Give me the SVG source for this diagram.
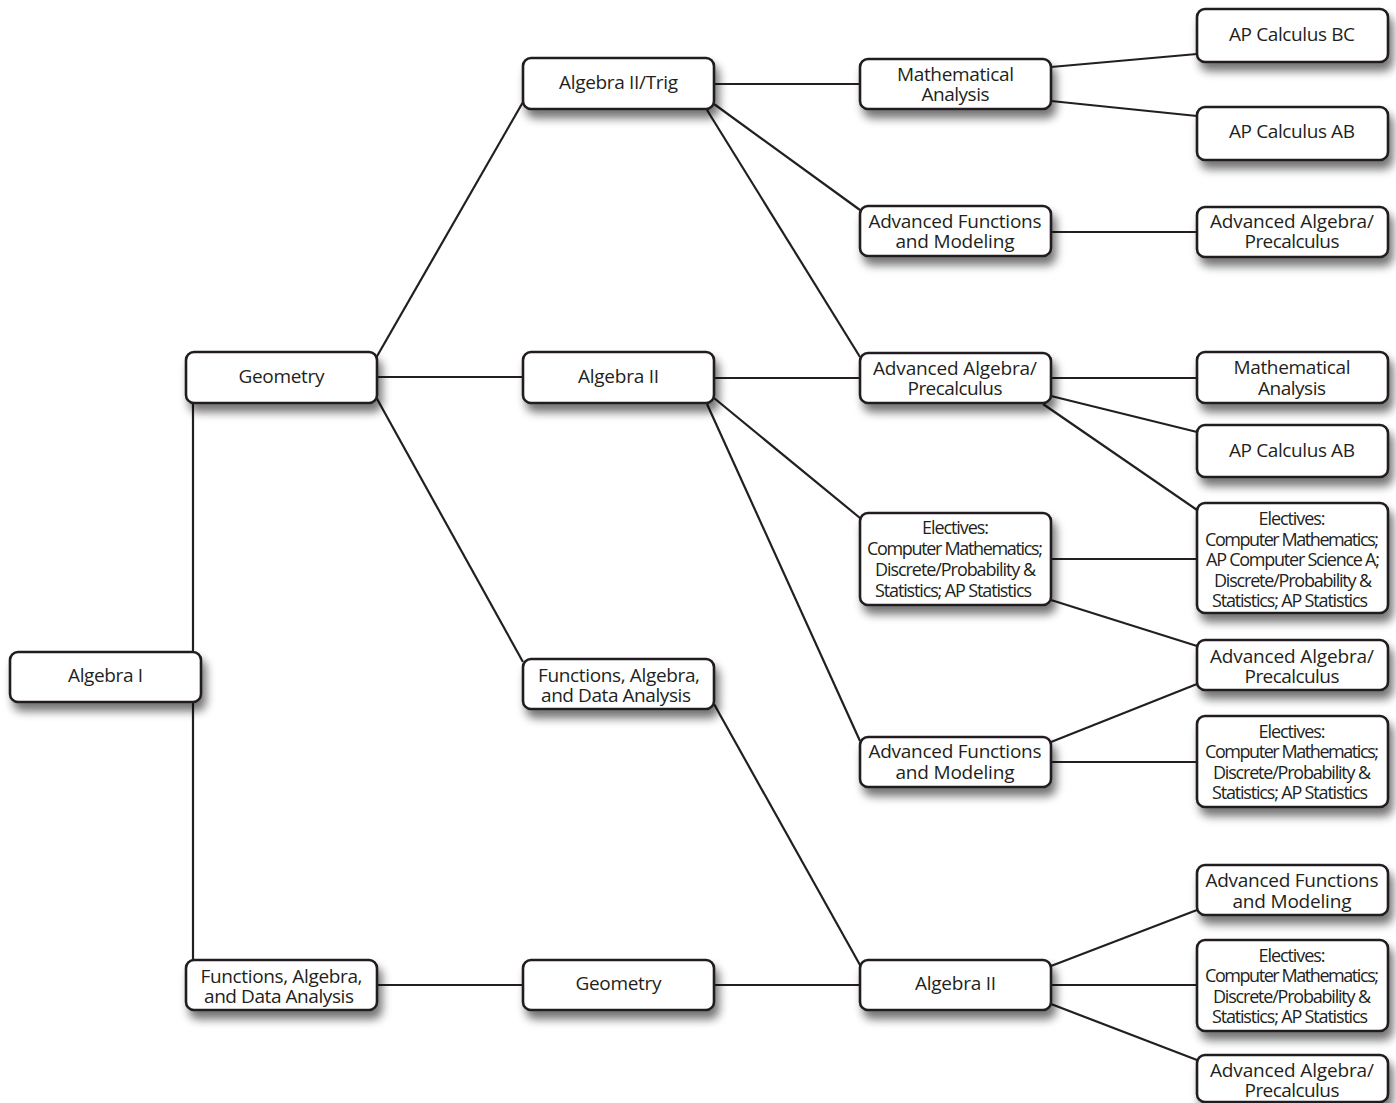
<svg xmlns="http://www.w3.org/2000/svg" width="1396" height="1103" viewBox="0 0 1396 1103">
<defs>
<filter id="sh" x="-10%" y="-20%" width="125%" height="170%">
<feGaussianBlur in="SourceAlpha" stdDeviation="5"/>
<feOffset dx="4" dy="8" result="b"/>
<feComponentTransfer><feFuncA type="linear" slope="0.55"/></feComponentTransfer>
<feMerge><feMergeNode/><feMergeNode in="SourceGraphic"/></feMerge>
</filter>
<style>
.b{fill:#fff;stroke:#231f20;stroke-width:2.6;filter:url(#sh)}
.t{font-family:"Open Sans","Noto Sans","Liberation Sans",sans-serif;font-size:19px;fill:#231f20;text-anchor:middle}
.e{font-size:18px}
.c line{stroke:#231f20;stroke-width:2.2;fill:none}
</style>
</defs>
<rect width="1396" height="1103" fill="#fff"/>
<g class="c" id="connectors">
<line x1="193" y1="403" x2="193" y2="960"/>
<line x1="376" y1="358" x2="523" y2="102"/>
<line x1="377" y1="377" x2="523" y2="377"/>
<line x1="376" y1="397" x2="523" y2="662"/>
<line x1="377" y1="985" x2="523" y2="985"/>
<line x1="714" y1="84" x2="860" y2="84"/>
<line x1="714" y1="104" x2="860" y2="210"/>
<line x1="707" y1="110" x2="860" y2="357"/>
<line x1="714" y1="378" x2="860" y2="378"/>
<line x1="714" y1="398" x2="860" y2="518"/>
<line x1="707" y1="404" x2="860" y2="741"/>
<line x1="714" y1="704" x2="860" y2="965"/>
<line x1="714" y1="985" x2="860" y2="985"/>
<line x1="1051" y1="67" x2="1197" y2="54"/>
<line x1="1051" y1="101" x2="1197" y2="116"/>
<line x1="1051" y1="232" x2="1197" y2="232"/>
<line x1="1051" y1="378" x2="1197" y2="378"/>
<line x1="1051" y1="396" x2="1197" y2="432"/>
<line x1="1043" y1="404" x2="1197" y2="510"/>
<line x1="1051" y1="559" x2="1197" y2="559"/>
<line x1="1051" y1="600" x2="1197" y2="646"/>
<line x1="1051" y1="742" x2="1197" y2="684"/>
<line x1="1051" y1="762" x2="1197" y2="762"/>
<line x1="1051" y1="966" x2="1197" y2="910"/>
<line x1="1051" y1="985" x2="1197" y2="985"/>
<line x1="1051" y1="1004" x2="1197" y2="1060"/>
</g>
<g id="algebra1"><rect class="b" x="10" y="652" width="191" height="50" rx="8"/><text class="t" x="105.5" y="682" textLength="75">Algebra I</text></g>
<g id="geometry1"><rect class="b" x="186" y="352" width="191" height="51" rx="8"/><text class="t" x="281.5" y="383" textLength="86">Geometry</text></g>
<g id="fada1"><rect class="b" x="186" y="960" width="191" height="50" rx="8"/><text class="t" x="281.5" y="983" textLength="162">Functions, Algebra,</text><text class="t" x="279" y="1003" textLength="150">and Data Analysis</text></g>
<g id="alg2trig"><rect class="b" x="523" y="58" width="191" height="51" rx="8"/><text class="t" x="618.5" y="89" textLength="119">Algebra II/Trig</text></g>
<g id="alg2a"><rect class="b" x="523" y="352" width="191" height="51" rx="8"/><text class="t" x="618.5" y="383" textLength="81">Algebra II</text></g>
<g id="fada2"><rect class="b" x="523" y="659" width="191" height="50" rx="8"/><text class="t" x="619" y="682" textLength="162">Functions, Algebra,</text><text class="t" x="616" y="702" textLength="150">and Data Analysis</text></g>
<g id="geometry2"><rect class="b" x="523" y="960" width="191" height="50" rx="8"/><text class="t" x="618.5" y="990" textLength="86">Geometry</text></g>
<g id="mathanalysis1"><rect class="b" x="860" y="59" width="191" height="50" rx="8"/><text class="t" x="955.5" y="81" textLength="117">Mathematical</text><text class="t" x="955.5" y="101" textLength="68">Analysis</text></g>
<g id="advfunc1"><rect class="b" x="860" y="206" width="191" height="50" rx="8"/><text class="t" x="955" y="228" textLength="173">Advanced Functions</text><text class="t" x="955" y="248" textLength="119">and Modeling</text></g>
<g id="advalg1"><rect class="b" x="860" y="353" width="191" height="50" rx="8"/><text class="t" x="955" y="375" textLength="164">Advanced Algebra/</text><text class="t" x="955" y="395" textLength="95">Precalculus</text></g>
<g id="electives1"><rect class="b" x="860" y="513" width="191" height="92" rx="8"/><text class="t e" x="955.5" y="534" textLength="67">Electives:</text><text class="t e" x="955" y="555" textLength="176">Computer Mathematics;</text><text class="t e" x="955.5" y="576" textLength="161">Discrete/Probability &amp;</text><text class="t e" x="953.5" y="597" textLength="157">Statistics; AP Statistics</text></g>
<g id="advfunc2"><rect class="b" x="860" y="737" width="191" height="50" rx="8"/><text class="t" x="955" y="758" textLength="173">Advanced Functions</text><text class="t" x="955" y="779" textLength="119">and Modeling</text></g>
<g id="alg2b"><rect class="b" x="860" y="960" width="191" height="50" rx="8"/><text class="t" x="955.5" y="990" textLength="81">Algebra II</text></g>
<g id="apcalcbc"><rect class="b" x="1197" y="9" width="191" height="53" rx="8"/><text class="t" x="1292" y="41" textLength="126">AP Calculus BC</text></g>
<g id="apcalcab1"><rect class="b" x="1197" y="107" width="191" height="53" rx="8"/><text class="t" x="1292" y="138" textLength="126">AP Calculus AB</text></g>
<g id="advalg2"><rect class="b" x="1197" y="207" width="191" height="50" rx="8"/><text class="t" x="1292" y="228" textLength="164">Advanced Algebra/</text><text class="t" x="1292" y="248" textLength="95">Precalculus</text></g>
<g id="mathanalysis2"><rect class="b" x="1197" y="352" width="191" height="51" rx="8"/><text class="t" x="1292" y="374" textLength="117">Mathematical</text><text class="t" x="1292" y="395" textLength="68">Analysis</text></g>
<g id="apcalcab2"><rect class="b" x="1197" y="425" width="191" height="52" rx="8"/><text class="t" x="1292" y="457" textLength="126">AP Calculus AB</text></g>
<g id="electives2"><rect class="b" x="1197" y="503" width="191" height="110" rx="8"/><text class="t e" x="1292" y="525" textLength="67">Electives:</text><text class="t e" x="1292" y="546" textLength="174">Computer Mathematics;</text><text class="t e" x="1293" y="566" textLength="174">AP Computer Science A;</text><text class="t e" x="1293" y="587" textLength="158">Discrete/Probability &amp;</text><text class="t e" x="1290" y="607" textLength="156">Statistics; AP Statistics</text></g>
<g id="advalg3"><rect class="b" x="1197" y="640" width="191" height="50" rx="8"/><text class="t" x="1292" y="663" textLength="164">Advanced Algebra/</text><text class="t" x="1292" y="683" textLength="95">Precalculus</text></g>
<g id="electives3"><rect class="b" x="1197" y="716" width="191" height="91" rx="8"/><text class="t e" x="1292" y="738" textLength="67">Electives:</text><text class="t e" x="1292" y="758" textLength="174">Computer Mathematics;</text><text class="t e" x="1292" y="779" textLength="158">Discrete/Probability &amp;</text><text class="t e" x="1290" y="799" textLength="156">Statistics; AP Statistics</text></g>
<g id="advfunc3"><rect class="b" x="1197" y="865" width="191" height="50" rx="8"/><text class="t" x="1292" y="887" textLength="173">Advanced Functions</text><text class="t" x="1292" y="908" textLength="119">and Modeling</text></g>
<g id="electives4"><rect class="b" x="1197" y="940" width="191" height="91" rx="8"/><text class="t e" x="1292" y="962" textLength="67">Electives:</text><text class="t e" x="1292" y="982" textLength="174">Computer Mathematics;</text><text class="t e" x="1292" y="1003" textLength="158">Discrete/Probability &amp;</text><text class="t e" x="1290" y="1023" textLength="156">Statistics; AP Statistics</text></g>
<g id="advalg4"><rect class="b" x="1197" y="1055" width="191" height="47" rx="8"/><text class="t" x="1292" y="1077" textLength="164">Advanced Algebra/</text><text class="t" x="1292" y="1097" textLength="95">Precalculus</text></g>
</svg>
